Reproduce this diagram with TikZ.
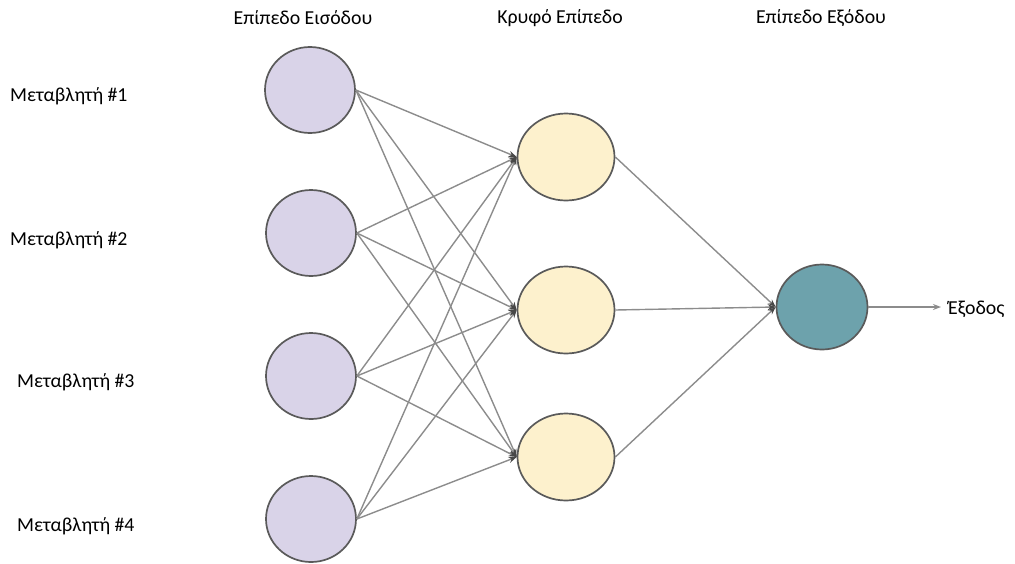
\documentclass[tikz,border=0pt]{standalone}
\usepackage{fontspec}
\setmainfont{Carlito}
\usetikzlibrary{shapes.geometric,arrows.meta}
\definecolor{inputfill}{HTML}{D9D3E8}
\definecolor{hiddenfill}{HTML}{FDF1CD}
\definecolor{outputfill}{HTML}{6DA2AC}
\definecolor{rim}{HTML}{5A5A5A}
\definecolor{wire}{HTML}{8C8C8C}
\tikzset{
  neuron/.style={ellipse, draw=rim, line width=1.7pt, inner sep=0pt},
  inneuron/.style={neuron, fill=inputfill, minimum width=90pt, minimum height=86pt},
  hidneuron/.style={neuron, fill=hiddenfill, minimum width=97pt, minimum height=87pt},
  outneuron/.style={neuron, fill=outputfill, minimum width=91pt, minimum height=85pt},
  wiring/.style={draw=wire, line width=1.4pt, -{Stealth[length=8pt,width=6pt,color=rim!80!black]}},
  lbl/.style={font=\fontsize{19.8}{22}\selectfont, text=black, inner sep=0pt}
}
\begin{document}
\begin{tikzpicture}[x=1pt,y=-1pt]
\useasboundingbox (0,0) rectangle (1015,563);

% layer titles
\node[lbl] (t1) at (303,18) {Επίπεδο Εισόδου};
\node[lbl] (t2) at (560,18) {Κρυφό Επίπεδο};
\node[lbl] (t3) at (821,18) {Επίπεδο Εξόδου};

% input variables
\node[lbl, anchor=west] (v1) at (10,96) {Μεταβλητή \#1};
\node[lbl, anchor=west] (v2) at (10,240) {Μεταβλητή \#2};
\node[lbl, anchor=west] (v3) at (17,382) {Μεταβλητή \#3};
\node[lbl, anchor=west] (v4) at (17,526) {Μεταβλητή \#4};

% neurons
\node[inneuron] (i1) at (310,90) {};
\node[inneuron] (i2) at (311,233) {};
\node[inneuron] (i3) at (311,376) {};
\node[inneuron] (i4) at (311,519) {};

\node[hidneuron] (h1) at (566,157) {};
\node[hidneuron] (h2) at (566,310) {};
\node[hidneuron] (h3) at (566,457) {};

\node[outneuron] (o) at (822,307) {};

% fully connected input -> hidden
\foreach \i in {1,...,4}
  \foreach \h in {1,2,3}
    \draw[wiring] (i\i.east) -- (h\h.west);

% hidden -> output
\foreach \h in {1,2,3}
  \draw[wiring] (h\h.east) -- (o.west);

% output signal
\coordinate (outend) at (941,307);
\draw[draw=wire, line width=1.4pt, -{Stealth[length=8pt,width=6pt]}] (o.east) -- (outend);
\node[lbl, anchor=west] (y) at (948,309) {Έξοδος};
\end{tikzpicture}
\end{document}
